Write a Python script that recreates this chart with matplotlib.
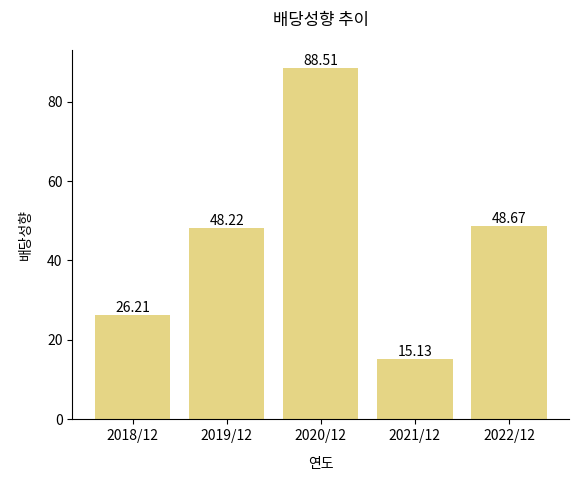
import matplotlib
matplotlib.use("Agg")
import matplotlib.pyplot as plt

plt.rcParams["font.family"] = ["Noto Sans CJK KR", "DejaVu Sans"]

years = ["2018/12", "2019/12", "2020/12", "2021/12", "2022/12"]
payout = [26.21, 48.22, 88.51, 15.13, 48.67]

fig, ax = plt.subplots(figsize=(5.78, 4.79), dpi=100)
bars = ax.bar(years, payout, color="#e5d585")
for b, v in zip(bars, payout):
    ax.text(b.get_x() + b.get_width() / 2, v, f"{v:.2f}", ha="center", va="bottom", fontsize=10)

ax.set_title("배당성향 추이", pad=18)
ax.set_xlabel("연도", labelpad=10)
ax.set_ylabel("배당성향", labelpad=10)
ax.spines["top"].set_visible(False)
ax.spines["right"].set_visible(False)
fig.subplots_adjust(left=0.125, right=0.985, top=0.895, bottom=0.125)
fig.savefig("out.png")
